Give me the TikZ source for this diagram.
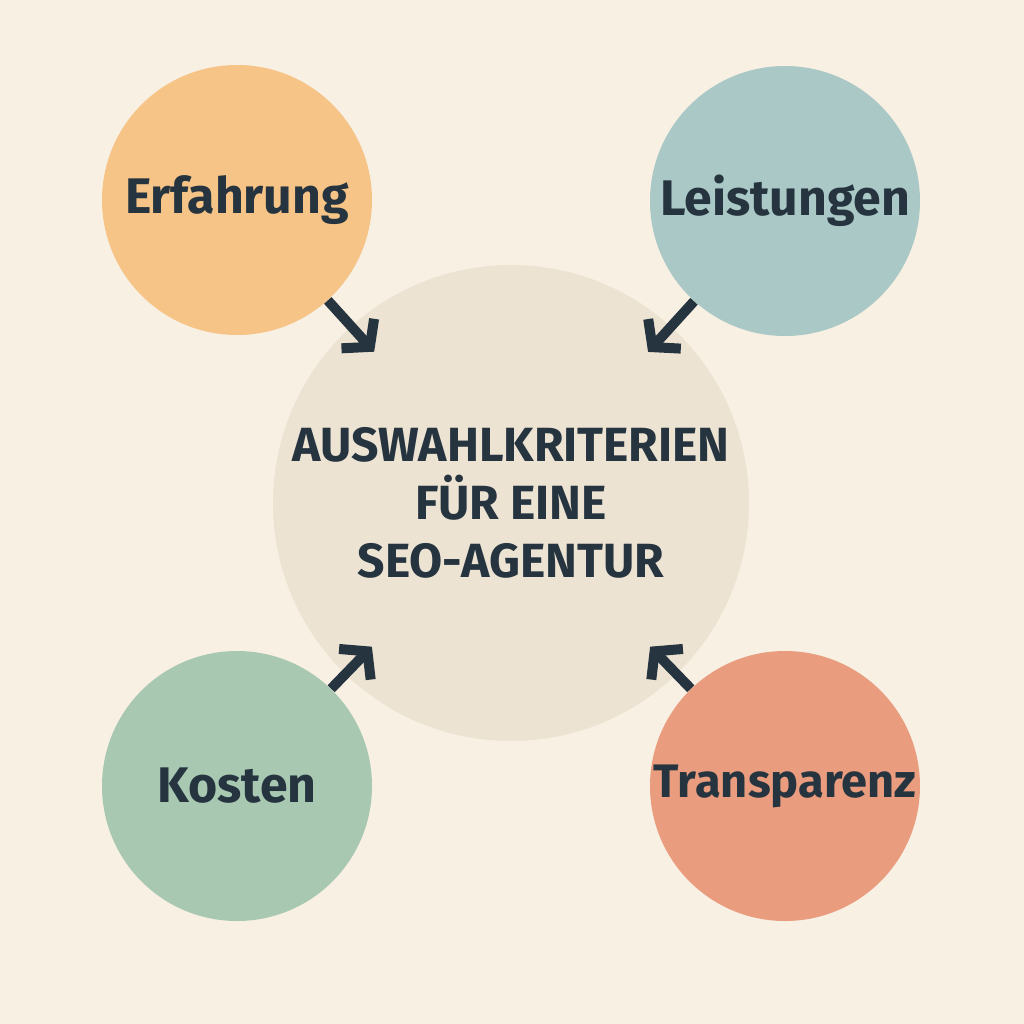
\documentclass[tikz,border=0pt]{standalone}
\usepackage{fontspec}
\setmainfont{Fira Sans}
\usepackage{tikz}
\usetikzlibrary{arrows.meta}
\usetikzlibrary{positioning}

\definecolor{paper}{HTML}{F8F0E3}
\definecolor{ink}{HTML}{263440}
\definecolor{hubfill}{HTML}{ECE3D3}
\definecolor{orangefill}{HTML}{F5C486}
\definecolor{tealfill}{HTML}{AAC9C6}
\definecolor{sagefill}{HTML}{A8C8B2}
\definecolor{coralfill}{HTML}{E99C7E}

\tikzset{
	topic/.style={circle,inner sep=0pt,minimum size=135pt,
		label={[text=ink,font=\fontsize{25}{29}\selectfont\bfseries]center:#1}},
	hub/.style={circle,fill=hubfill,inner sep=0pt,minimum size=238pt,
		text=ink,align=center,font=\fontsize{24}{29}\selectfont\bfseries},
	pointer/.style={draw=ink,line width=5pt,
		-{Straight Barb[length=9pt,width=22pt,sharp]}}
}

\begin{document}
\begin{tikzpicture}[x=0.5pt,y=-0.5pt]
	\fill[paper] (0,0) rectangle (1024,1024);
	\useasboundingbox (0,0) rectangle (1024,1024);

	\node[hub] (centre) at (511,503) {AUSWAHLKRITERIEN\\FÜR EINE\\SEO-AGENTUR};

	\node[topic=Erfahrung,fill=orangefill] (erf) at (237,200) {};
	\node[topic=Leistungen,fill=tealfill] (leist) at (785,201) {};
	\node[topic=Kosten,fill=sagefill] (kost) at (237,786) {};
	\node[topic={\fontsize{23.5}{28}\selectfont Transparenz},fill=coralfill] (transp) at (785,786) {};

	% arrows end a little inside the hub
	\draw[pointer,shorten >=102pt] (erf) -- (centre.center);
	\draw[pointer,shorten >=102pt] (leist) -- (centre.center);
	\draw[pointer,shorten >=100pt] (kost) -- (centre.center);
	\draw[pointer,shorten >=100pt] (transp) -- (centre.center);
\end{tikzpicture}
\end{document}
